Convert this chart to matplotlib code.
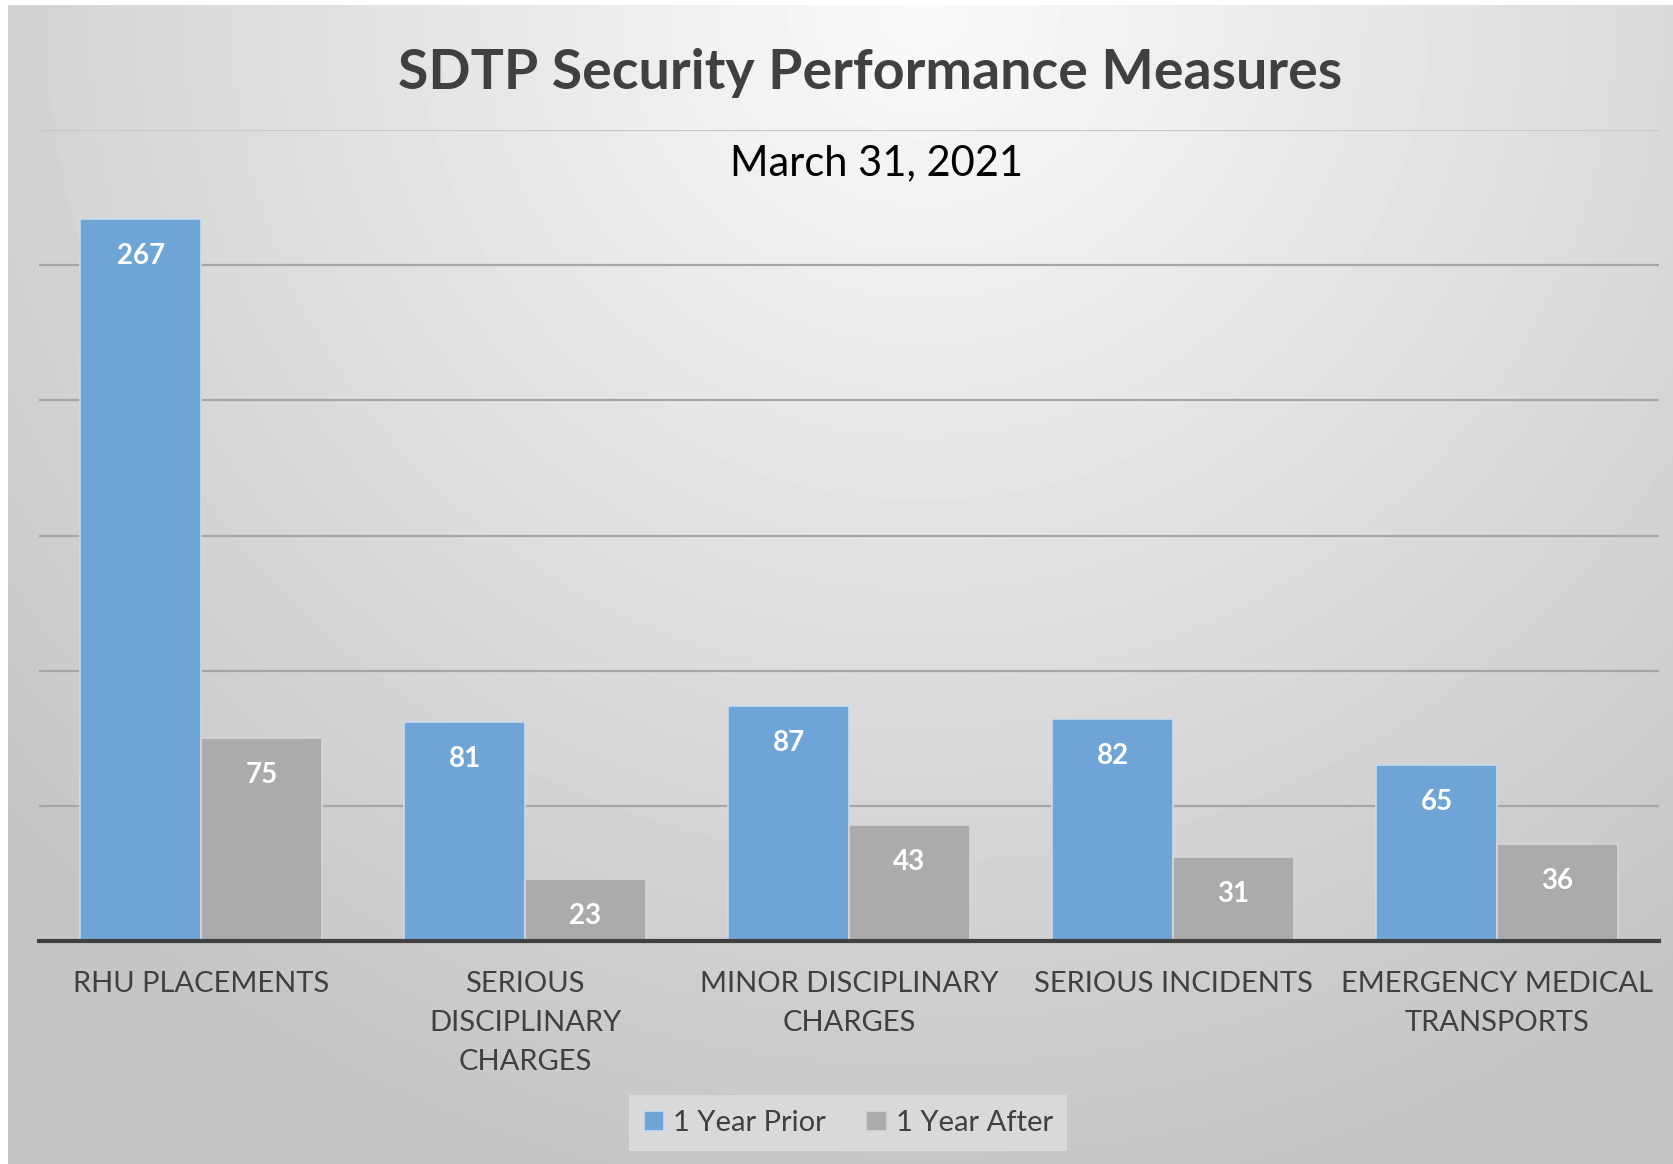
import numpy as np
import matplotlib
matplotlib.use('Agg')
import matplotlib.pyplot as plt

categories = ['RHU PLACEMENTS', 'SERIOUS\nDISCIPLINARY\nCHARGES',
              'MINOR DISCIPLINARY\nCHARGES', 'SERIOUS INCIDENTS',
              'EMERGENCY MEDICAL\nTRANSPORTS']
prior = [267, 81, 87, 82, 65]
after = [75, 23, 43, 31, 36]
series_names = ['1 Year Prior', '1 Year After']

plt.rcParams['font.family'] = ['Lato', 'DejaVu Sans']

W, H, DPI = 1673, 1164, 100
fig = plt.figure(figsize=(W / DPI, H / DPI), dpi=DPI, facecolor='white')

# gradient chart-area background (light at top centre, darker to the edges)
bg = fig.add_axes([8 / W, 0, 1 - 8 / W, 1 - 5 / H])
gx, gy = np.meshgrid(np.linspace(0, 1, 400), np.linspace(0, 1, 300))
r = np.sqrt(((gx - 0.55) / 0.75) ** 2 + ((gy - 0.0) / 1.05) ** 2)
shade = 0.98 - 0.21 * np.clip(r, 0, 1)
bg.imshow(shade, cmap='gray', vmin=0, vmax=1, aspect='auto',
          extent=[0, 1, 1, 0], interpolation='bicubic')
bg.axis('off')

ax = fig.add_axes([39 / W, 1 - 941 / H, (1659 - 39) / W, (941 - 130) / H])
ax.patch.set_alpha(0)

x = np.arange(len(categories))
w = 0.373
b1 = ax.bar(x - w / 2, prior, w, color='#6fa4d6', edgecolor='#c9dcee',
            linewidth=1.2, label=series_names[0], zorder=3)
b2 = ax.bar(x + w / 2, after, w, color='#ababab', edgecolor='#d6d6d6',
            linewidth=1.2, label=series_names[1], zorder=3)

for bars, vals in ((b1, prior), (b2, after)):
    for rect, v in zip(bars, vals):
        ax.annotate(str(v), (rect.get_x() + rect.get_width() / 2, v),
                    xytext=(0, -37), textcoords='offset pixels',
                    ha='center', va='center', color='white',
                    fontsize=20, fontweight='bold', zorder=4)

ax.set_ylim(0, 300)
ax.set_xlim(-0.5, len(categories) - 0.5)
ax.set_yticks(range(50, 301, 50))
ax.yaxis.grid(True, color='#a6a6a6', linewidth=1.6, zorder=0)
ax.get_ygridlines()[-1].set_color('#c8c8c8')
ax.tick_params(axis='y', left=False, labelleft=False)
ax.tick_params(axis='x', bottom=False, pad=18)
ax.set_xticks(x)
ax.set_xticklabels(categories, fontsize=21, color='#404040',
                   linespacing=1.62, va='top')
for s in ('top', 'right', 'left'):
    ax.spines[s].set_visible(False)
ax.spines['bottom'].set_color('#404040')
ax.spines['bottom'].set_linewidth(3)
ax.spines['bottom'].set_zorder(5)

fig.text(0.52, 1 - 73 / H, 'SDTP Security Performance Measures',
         ha='center', va='center', fontsize=40, fontweight='bold',
         color='#404040')
fig.text(0.524, 1 - 163 / H, 'March 31, 2021', ha='center', va='center',
         fontsize=30, color='black')

leg = fig.legend(loc='center', bbox_to_anchor=(0.507, 1 - 1123 / H),
                 ncol=2, frameon=True, fontsize=21, handlelength=0.7,
                 handleheight=0.7, handletextpad=0.3, columnspacing=1.4,
                 borderpad=0.5, fancybox=False, labelcolor='#404040')
leg.get_frame().set_facecolor('#dedede')
leg.get_frame().set_edgecolor('none')

fig.savefig('out.png', dpi=DPI)
